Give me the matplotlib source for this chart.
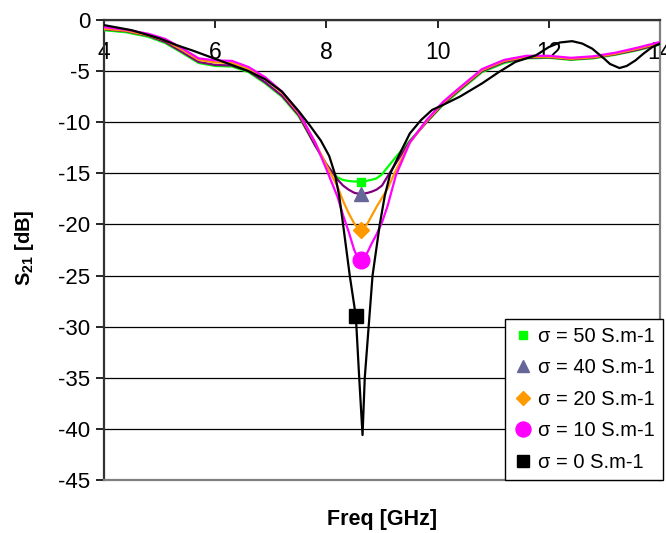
import matplotlib
matplotlib.use("Agg")
import matplotlib.pyplot as plt
from matplotlib.lines import Line2D

plt.rcParams['font.family'] = ['Liberation Sans', 'DejaVu Sans']
plt.rcParams['mathtext.fontset'] = 'custom'
plt.rcParams['mathtext.rm'] = 'Liberation Sans'
plt.rcParams['mathtext.bf'] = 'Liberation Sans:bold'
plt.rcParams['axes.unicode_minus'] = False

# frequency grid (GHz) for the sigma = 10..50 curves
freq = [4.0, 4.4, 4.8, 5.1, 5.4, 5.7, 6.0, 6.3, 6.6, 6.9, 7.2, 7.5, 7.8, 8.0,
        8.2, 8.3, 8.4, 8.5, 8.56, 8.63, 8.69, 8.75, 8.82, 8.9, 9.0, 9.1, 9.25,
        9.5, 9.8, 10.1, 10.4, 10.8, 11.2, 11.6, 12.0, 12.4, 12.8, 13.2, 13.6, 14.0]

s21_50 = [-1.0, -1.2, -1.65, -2.25, -3.2, -4.2, -4.5, -4.55, -5.1, -6.2, -7.5,
          -9.4, -12.3, -14.2, -15.4, -15.65, -15.75, -15.8, -15.8, -15.8, -15.78,
          -15.7, -15.62, -15.5, -15.1, -14.4, -13.4, -11.8, -10.0, -8.3, -6.9,
          -5.1, -4.2, -3.75, -3.7, -3.9, -3.75, -3.4, -2.95, -2.4]
s21_40 = [-0.9, -1.1, -1.55, -2.15, -3.1, -4.1, -4.4, -4.45, -5.0, -6.1, -7.4,
          -9.3, -12.3, -14.1, -15.6, -16.2, -16.6, -16.9, -16.98, -17.0, -16.97,
          -16.9, -16.78, -16.6, -16.2, -15.3, -14.0, -11.9, -10.0, -8.2, -6.8,
          -5.0, -4.1, -3.7, -3.65, -3.85, -3.7, -3.35, -2.9, -2.35]
s21_20 = [-0.85, -1.05, -1.5, -2.0, -2.9, -3.9, -4.15, -4.2, -4.8, -5.8, -7.1,
          -9.1, -12.0, -14.2, -16.3, -17.7, -18.9, -19.9, -20.3, -20.5, -20.25,
          -19.8, -19.1, -18.3, -17.4, -16.5, -14.7, -12.0, -9.9, -8.1, -6.7,
          -4.9, -4.0, -3.6, -3.6, -3.8, -3.65, -3.3, -2.8, -2.25]
s21_10 = [-0.7, -0.95, -1.35, -1.85, -2.75, -3.75, -3.95, -4.0, -4.6, -5.6, -7.0,
          -9.0, -12.0, -14.6, -17.3, -19.1, -20.7, -22.5, -23.2, -23.5, -23.2,
          -22.6, -21.8, -21.0, -19.8, -18.2, -15.2, -12.0, -9.8, -8.0, -6.6,
          -4.8, -3.9, -3.5, -3.5, -3.7, -3.55, -3.2, -2.7, -2.15]

# sigma = 0 curve has its own, denser sampling around the notch
freq_0 = [4.0, 4.5, 5.0, 5.3, 5.6, 5.9, 6.3, 6.6, 6.9, 7.2, 7.5, 7.7, 7.9, 8.05,
          8.15, 8.23, 8.3, 8.42, 8.53, 8.59, 8.65, 8.69, 8.76, 8.83, 8.96, 9.05,
          9.15, 9.3, 9.5, 9.7, 9.9, 10.1, 10.4, 10.8, 11.1, 11.4, 11.77, 12.0,
          12.2, 12.42, 12.6, 12.78, 13.0, 13.1, 13.27, 13.4, 13.56, 13.7, 13.86, 14.0]
s21_0 = [-0.5, -1.0, -1.8, -2.45, -3.0, -3.6, -4.4, -5.0, -5.8, -7.0, -8.9,
         -10.3, -11.8, -13.3, -15.0, -17.2, -20.0, -25.0, -29.0, -35.0, -40.6,
         -35.0, -30.0, -25.0, -20.0, -17.2, -15.0, -13.3, -11.1, -9.8, -8.8,
         -8.3, -7.5, -6.2, -5.1, -4.1, -3.45, -2.65, -2.2, -2.07, -2.3, -2.8,
         -3.8, -4.3, -4.7, -4.5, -3.95, -3.3, -2.65, -2.3]

labels = ['σ = 50 S.m-1', 'σ = 40 S.m-1', 'σ = 20 S.m-1', 'σ = 10 S.m-1', 'σ = 0 S.m-1']

fig = plt.figure(figsize=(6.66, 5.33), dpi=100)
ax = fig.add_axes([104 / 666, 1 - 480 / 533, 556 / 666, 460 / 533])

# (x, y, line colour, marker, marker colour, marker size, marker index)
series = [
    (freq, s21_50, '#00FF00', 's', '#00FF00', 6, 19),
    (freq, s21_40, '#800080', '^', '#666699', 10, 19),
    (freq, s21_20, '#FF9900', 'D', '#FF9900', 8, 19),
    (freq, s21_10, '#FF00FF', 'o', '#FF00FF', 12, 19),
    (freq_0, s21_0, '#000000', 's', '#000000', 10, 18),
]

handles = []
for (x, y, lc, mk, mc, ms, idx), lab in zip(series, labels):
    ax.plot(x, y, color=lc, lw=1.6, zorder=3)
    ax.plot(x[idx], y[idx], marker=mk, color=mc, ms=ms, ls='none', zorder=4)
    handles.append(Line2D([], [], marker=mk, color=mc, ms=ms * 0.9, ls='none'))

ax.set_xlim(4, 14)
ax.set_ylim(-45, 0)
ax.set_xticks([4, 6, 8, 10, 12, 14])
ax.set_yticks(range(-45, 1, 5))
ax.yaxis.grid(True, color='black', lw=0.9)
ax.set_axisbelow(True)

ax.spines['top'].set_color('#333333')
ax.spines['top'].set_linewidth(1.6)
ax.spines['left'].set_color('#333333')
ax.spines['left'].set_linewidth(1.6)
ax.spines['right'].set_color('#808080')
ax.spines['right'].set_linewidth(1.6)
ax.spines['bottom'].set_color('#808080')
ax.spines['bottom'].set_linewidth(1.6)

ax.tick_params(axis='y', direction='out', length=6, width=1.2, labelsize=16, pad=4)
ax.tick_params(axis='x', top=True, bottom=False, labeltop=True, labelbottom=False,
               direction='in', length=6, width=1.2, labelsize=16.5, pad=-32)

ax.set_ylabel(r'S$_{\mathbf{21}}$ [dB]', fontsize=14.5, fontweight='bold')
ax.yaxis.set_label_coords(-0.122, 0.504)
ax.set_xlabel('Freq [GHz]', fontsize=15.5, fontweight='bold')
ax.xaxis.set_label_position('bottom')
ax.xaxis.set_label_coords(0.5, -0.062)

leg = ax.legend(handles, labels, loc='lower right', bbox_to_anchor=(1.005, 0.0),
                borderaxespad=0, fontsize=14.5, frameon=True, fancybox=False,
                framealpha=1, edgecolor='black', handlelength=1.0,
                handletextpad=0.25, labelspacing=0.62, borderpad=0.4)
leg.get_frame().set_linewidth(1.0)
leg.set_zorder(10)

fig.savefig('out.png', dpi=100)
